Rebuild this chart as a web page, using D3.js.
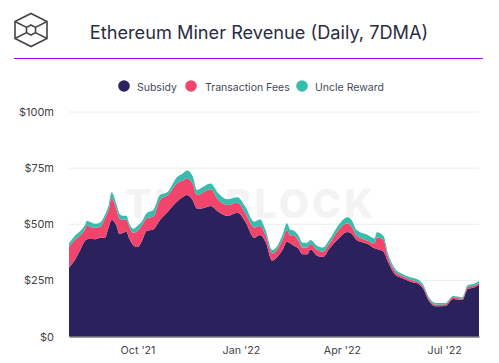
<!DOCTYPE html>
<html><head><meta charset="utf-8">
<script src="https://cdn.jsdelivr.net/npm/d3@7"></script>
<style>html,body{margin:0;padding:0;background:#fff;overflow:hidden}svg{display:block}text{font-family:Inter,"Noto Sans",sans-serif}</style>
</head><body><svg id="c" width="499" height="363"></svg>
<script>
const startDate = "2021-08-01";
const dayOffsets = [0,5,10,14,16,19,23,28,32,35,38,42,45,48,51,54,57,61,65,69,75,81,88,96,101,105,110,114,118,126,133,141,150,157,165,170,175,181,185,190,194,197,199,204,208,212,215,221,226,232,240,248,252,256,266,272,274,280,284,290,297,304,310,315,321,326,335,342,350,355,360,365];
const subsidy = [30.6,34,38.5,42.5,43.3,43.4,43.3,44,43.9,48.2,51.9,49.7,45.7,46.2,46.7,43.3,40.8,39.9,42.7,47,47.7,51.9,55.6,60,62,63,60.8,57,57,58.1,55.6,53.7,55.1,51.1,44,45.2,42.2,33.8,35.3,38.5,42.2,41.5,40.8,39.3,36.6,36.6,38.8,36,35.4,39.3,43.7,46.5,45.5,43,41.2,39.3,39,37.8,33.3,27.8,25.9,24.4,23.7,21.5,15.5,13.5,13.6,16.7,16.3,21.2,21.7,22.9];
const transactionFees = [9.4,9,6.5,5,6.4,5.4,5.1,5,8.7,7.8,9.7,7.4,6.8,5.8,5.3,5.3,5.4,7.1,6.8,5.6,5.7,8.9,7.4,8.2,7.5,7.4,7.4,6,6.8,7.5,5.2,4.9,4.5,3.8,4.6,4,3,3.2,3.2,4.5,5.2,3.5,4.4,3.7,3,3,2.4,2.5,2.4,2.2,3.7,3.9,3.1,2,1.5,2.2,5.2,5.2,2.2,1.5,1,0.9,0.7,1,0.8,0.8,0.8,0.9,0.5,1,0.8,0.8];
const uncleReward = [1.5,1.8,2,2,1.9,2.2,1.8,1.9,1.6,2,2.6,2.2,2.2,1.8,1.8,1.4,1.8,2.3,1.8,2.3,2.9,2.2,1.5,2.7,3,3.5,3.3,2.3,2.5,2.6,3,2.5,2.4,2.9,2.5,3,2.2,1.5,1.5,2.2,3,2.6,2.2,2.2,2.2,2.2,1.8,1.9,1.8,1.8,2.3,2.7,3,2.5,2.5,2.2,2.2,1.8,1.5,1.1,0.9,1.1,1.1,0.9,0.7,0.6,0.5,0.4,0.7,0.7,0.9,1];
const seriesNames = ["Subsidy","Transaction Fees","Uncle Reward"];
const seriesColors = ["#2b215c","#f2456c","#38bcae"];
const yTicks = [0,25,50,75,100];
const yLabels = ["$0","$25m","$50m","$75m","$100m"];
const xTickDates = ["2021-10-01","2022-01-01","2022-04-01","2022-07-01"];
const xTickLabels = ["Oct '21","Jan '22","Apr '22","Jul '22"];
const titleText = "Ethereum Miner Revenue (Daily, 7DMA)";

const svg = d3.select("#c");
const parse = d3.utcParse("%Y-%m-%d");
const start = parse(startDate);
const rows = dayOffsets.map((d,i)=>({date:d3.utcDay.offset(start,d),"Subsidy":subsidy[i],"Transaction Fees":transactionFees[i],"Uncle Reward":uncleReward[i]}));
const x = d3.scaleUtc().domain([start,d3.utcDay.offset(start,365)]).range([69,479]);
const y = d3.scaleLinear().domain([0,100]).range([336.5,112]);

// logo
const logo = svg.append("g").attr("transform","translate(31,30)").attr("fill","none").attr("stroke","#444").attr("stroke-width",1.6);
logo.append("path").attr("d","M0,-16.5 L16,-8.5 L16,8.5 L0,16.5 L-16,8.5 L-16,-8.5 Z");
logo.append("path").attr("d","M0,-5 L4.5,-2.6 L4.5,2.6 L0,5 L-4.5,2.6 L-4.5,-2.6 Z");
logo.append("path").attr("d","M-16,-8.5 L-4.5,-2.6 M16,-8.5 L4.5,-2.6 M-16,8.5 L-4.5,2.6 M16,8.5 L4.5,2.6");
// title
svg.append("text").attr("x",259).attr("y",39).attr("text-anchor","middle").attr("font-size",18.2).attr("fill","#2b2d42").text(titleText);
svg.append("line").attr("x1",14).attr("x2",483).attr("y1",58.5).attr("y2",58.5).attr("stroke","#a700ff").attr("stroke-width",1.2);
// legend
const legendCx=[124,191,302], legendTx=[137,205,315];
seriesNames.forEach((n,i)=>{
  svg.append("circle").attr("cx",legendCx[i]).attr("cy",86).attr("r",5.8).attr("fill",seriesColors[i]);
  svg.append("text").attr("x",legendTx[i]).attr("y",91).attr("font-size",10.5).attr("fill","#444a5c").text(n);
});
// grid and axes
const yAxis = d3.axisLeft(y).tickValues(yTicks).tickFormat((d,i)=>yLabels[i]).tickSize(0).tickPadding(15);
const gy = svg.append("g").attr("transform","translate(69,0)").call(yAxis);
gy.select(".domain").remove();
gy.selectAll("text").attr("font-size",11).attr("fill","#444").style("font-family","Inter,sans-serif");
svg.append("g").selectAll("line").data(yTicks.slice(1)).join("line").attr("x1",69).attr("x2",479).attr("y1",d=>y(d)).attr("y2",d=>y(d)).attr("stroke","#ececec");
// watermark
svg.append("text").attr("x",125).attr("y",218).attr("font-size",39).attr("font-weight",800).attr("textLength",248).attr("lengthAdjust","spacing").attr("fill","#f3f3f3").text("THE BLOCK");
// stack
const stack = d3.stack().keys(seriesNames)(rows);
const area = d3.area().x(d=>x(d.data.date)).y0(d=>y(d[0])).y1(d=>y(d[1])).curve(d3.curveMonotoneX);
svg.append("g").selectAll("path").data(stack).join("path").attr("d",area).attr("fill",(d,i)=>seriesColors[i]);
// x axis
const xAxis = d3.axisBottom(x).tickValues(xTickDates.map(parse)).tickFormat((d,i)=>xTickLabels[i]).tickSize(0).tickPadding(10);
const gx = svg.append("g").attr("transform","translate(0,336.5)").call(xAxis);
gx.select(".domain").attr("stroke","#3a3a3a").attr("stroke-width",1);
gx.selectAll("text").attr("font-size",10.7).attr("fill","#444").style("font-family","Inter,sans-serif");
</script></body></html>
